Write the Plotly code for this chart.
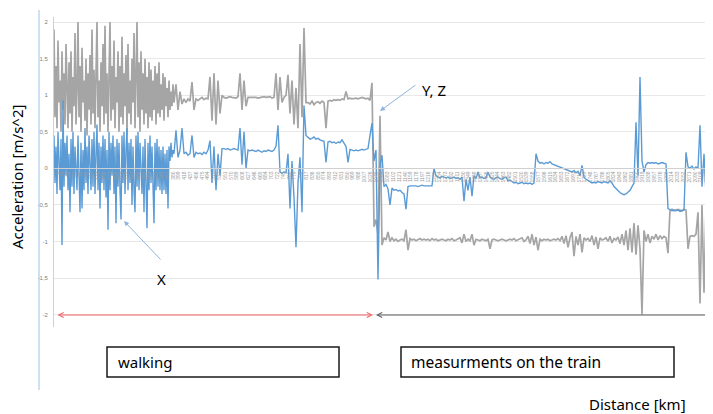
import numpy as np
import plotly.graph_objects as go

# ---------------- data ----------------
# walking part: densely sampled (one sample per unit of the distance axis)
GRAY_WALK = [1.9, 0.7, 1.4, 0.55, 1.75, 0.9, 1.2, 0.5, 1.6, 0.8,
             1.3, 0.6, 1.7, 1.0, 0.55, 1.45, 0.75, 1.6, 0.5, 1.25,
             0.85, 1.85, 0.6, 1.1, 2.0, 0.7, 1.4, 0.5, 1.65, 0.9,
             1.2, 0.65, 1.5, 0.45, 1.3, 0.8, 1.55, 0.6, 1.9, 0.75,
             1.35, 0.55, 1.6, 2.0, 0.7, 1.2, 0.5, 1.45, 0.85, 1.7,
             0.6, 1.95, 0.75, 1.3, 0.5, 1.6, 2.0, 0.65, 1.4, 0.8,
             1.75, 0.55, 1.25, 0.9, 1.6, 0.5, 1.4, 0.7, 1.8, 0.6,
             1.3, 0.85, 1.55, 0.45, 1.7, 0.75, 1.2, 0.6, 1.5, 0.9,
             1.85, 0.55, 1.35, 2.0, 0.7, 1.45, 0.5, 1.6, 0.8, 1.3,
             0.6, 1.5, 0.75, 1.25, 0.55, 1.45, 0.7, 1.35, 0.65, 1.2,
             0.8, 1.4, 0.6, 1.3, 0.75, 1.45, 0.7, 1.15, 0.8, 1.3,
             0.65, 1.25, 0.85, 1.1, 0.7, 1.2, 0.8, 1.05, 0.85, 1.15,
             0.9]
BLUE_WALK = [0.45, -0.2, 0.3, -0.35, 0.5, 0.0, -0.3, 0.4, -1.05, 0.93,
             -0.25, 0.35, -0.1, 0.45, -0.3, 0.2, -0.6, 0.4, -0.25, 0.5,
             -0.35, 0.3, 0.05, -0.3, 0.45, -0.15, -0.6, 0.35, -0.55, 0.25,
             -0.3, 0.55, -0.2, 0.3, -0.35, 0.45, 0.0, -0.3, 0.4, -0.25,
             0.5, -0.35, 0.2, 0.6, -0.3, 0.35, -0.55, 0.3, -0.2, 0.45,
             -0.3, 0.4, -0.4, 0.25, -0.84, 0.5, -0.3, 0.35, -0.1, 0.45,
             -0.35, 0.3, -0.75, 0.4, -0.25, 0.35, -0.3, -0.7, 0.45, -0.2,
             0.5, -0.35, 0.25, 0.55, -0.3, 0.35, -0.2, 0.4, -0.5, 0.3,
             -0.3, -0.6, 0.45, -0.25, 0.5, -0.3, 0.35, 0.0, -0.35, 0.3,
             -0.6, 0.4, -0.25, -0.82, 0.35, -0.3, 0.45, -0.2, 0.3, -0.35,
             -0.75, 0.35, -0.3, 0.4, -0.25, 0.3, -0.3, 0.25, -0.35, 0.3,
             -0.3, 0.2, -0.35, 0.25, -0.55, 0.3, 0.1, 0.35, 0.15, 0.25,
             0.2]

# remaining parts: one sample every two units of the distance axis
GRAY_SLOW = [1.15, 0.8, 1.05, 0.88, 0.95, 0.9, 0.95, 0.92, 1.18, 0.8,
             0.95, 0.93, 0.95, 0.97, 0.94, 0.96, 0.95,
             1.25, 0.65, 1.3, 0.6, 1.2, 0.75, 1.0,
             0.97, 0.96, 0.97, 0.98, 0.97, 0.97, 0.96, 0.98,
             1.3, 0.8, 1.2, 0.85, 0.97,
             0.97, 0.97, 0.98, 0.97, 0.96, 0.97, 0.97, 0.98, 0.97, 0.97, 0.98, 0.96, 0.97,
             1.3, 0.8, 1.25, 0.9, 0.97, 1.0, 1.28, 0.75, 1.2, 0.6, 1.1, 0.55, 1.7, 0.7, 1.92, 0.9]
GRAY_STATION = [0.9, 0.88, 0.92, 0.87, 0.9, 0.91, 0.89, 0.92, 0.9, 0.55,
                0.92, 0.93, 0.92, 0.94, 0.93, 0.94, 0.93, 0.95, 0.94, 1.05,
                0.95, 0.96, 0.95, 0.96, 0.96, 0.95, 0.96, 0.97, 0.96, 0.95,
                0.96, 0.93, 1.17,
                -0.8, -0.7, -0.9, 0.72, -1.05, -0.95]
GRAY_TRAIN = [-0.98, -0.87, -1.0, -0.95, -0.99, -0.97, -1.0, -0.98, -0.97, -0.99,
              -0.84, -1.12, -0.96, -0.98, -0.97, -0.99, -0.98, -0.96, -0.98, -0.97,
              -0.98, -0.97, -0.99, -0.96, -0.98, -0.97, -0.99, -0.98, -0.97, -0.98,
              -0.99, -0.97, -0.98, -0.96, -0.99, -0.98, -0.97, -0.95, -1.02, -0.9,
              -1.0, -0.97, -0.99, -0.9, -1.05, -0.97, -0.98, -0.99, -0.97, -0.98,
              -0.99, -0.97, -1.1, -0.98, -0.97, -0.98, -0.99, -0.98, -0.97, -0.98,
              -0.99, -0.98, -0.97, -0.98, -0.96, -0.99, -0.98, -0.97, -0.95, -1.0,
              -0.98, -0.93, -1.03, -0.9, -1.05, -0.94, -1.12, -0.97, -0.99, -0.97,
              -0.98, -0.97, -0.99, -0.98, -0.97, -0.98, -0.96, -0.99, -0.93, -1.03,
              -0.92, -1.08, -0.95, -0.87, -1.2, -0.93, -1.05, -0.9, -1.15, -0.95,
              -0.98, -0.96, -1.0, -0.92, -1.05, -0.94, -1.1, -0.95, -0.98, -0.97,
              -0.95, -1.0, -0.93, -1.02, -0.96, -0.98, -0.94, -1.03, -0.9, -1.05,
              -0.85, -1.12, -0.82]
GRAY_END = [-1.15, -0.75, -1.18, -0.78, -1.1, -2.0, -0.85, -1.0, -0.9, -1.02,
            -0.93, -0.97, -0.9, -0.98, -0.92, -0.96, -0.93, -0.95, -1.16,
            -0.57, -0.56, -0.58, -0.57, -0.56, -0.57, -0.58, -0.56, -0.57,
            -1.1, -0.93, -0.92, -0.93, -0.9, -0.6, -1.85, -0.5, -1.7, -0.55, -1.9, -0.6, -1.75]

BLUE_SLOW = [0.52, 0.15, 0.25, 0.55, 0.2, 0.22, 0.18, 0.2, 0.45, 0.15,
             0.22, 0.2, 0.21, 0.19, 0.22, 0.2, 0.25,
             0.38, -0.2, 0.3, -0.3, 0.2, -0.1, 0.27,
             0.27, 0.26, 0.27, 0.25, 0.26, 0.27, 0.26, 0.25,
             0.55, 0.05, 0.5, 0.0, 0.25,
             0.24, 0.25, 0.24, 0.23, 0.25, 0.24, 0.22, 0.24, 0.23, 0.25, 0.24, 0.23, 0.25,
             0.3, 0.59, -0.05, -0.07, -0.05, -0.06, 0.2, -0.55, 0.1, -0.4, -1.08, -0.2, 0.15, -0.6, 0.86, 0.45]
BLUE_STATION = [0.42, 0.4, 0.41, 0.43, 0.4, 0.41, 0.39, 0.38, 0.37, 0.08,
                0.36, 0.37, 0.35, 0.36, 0.34, 0.36, 0.35, 0.39, 0.34, 0.3,
                0.08, 0.26, 0.25, 0.24, 0.25, 0.24, 0.25, 0.26, 0.25, 0.26,
                0.27, 0.45, 0.62,
                0.1, 0.25, -1.52, 0.05, 0.18, -0.25]
BLUE_TRAIN = [-0.22, -0.28, -0.5, -0.27, -0.3, -0.29, -0.31, -0.3, -0.33, -0.35,
              -0.56, -0.25, -0.24, -0.24, -0.23, -0.24, -0.25, -0.24, -0.23, -0.24,
              -0.24, -0.25, -0.24, -0.24, 0.0, -0.1, -0.12, -0.13, -0.11, -0.12,
              -0.13, -0.12, -0.14, -0.13, -0.12, -0.14, -0.13, -0.15, -0.12, -0.45,
              -0.15, -0.3, -0.12, -0.38, -0.1, -0.14, -0.05, -0.13, -0.12, -0.14,
              -0.13, -0.05, -0.12, -0.14, -0.15, -0.13, -0.12, -0.14, -0.15, -0.13,
              -0.12, -0.17, -0.16, -0.18, -0.2, -0.19, -0.21, -0.2, -0.19, -0.21,
              -0.2, -0.21, -0.2, -0.22, -0.2, 0.2, 0.1, 0.07, 0.08, 0.06,
              0.08, 0.07, 0.09, 0.06, 0.05, 0.04, 0.03, 0.02, 0.01, 0.0,
              -0.02, -0.03, -0.04, -0.05, -0.03, -0.06, -0.04, -0.1, 0.04, -0.12,
              -0.15, -0.17, -0.18, -0.2, -0.19, -0.2, -0.18, -0.19, -0.2, -0.18,
              -0.19, -0.2, -0.17, -0.2, -0.25, -0.28, -0.3, -0.33, -0.35, -0.36,
              -0.35, -0.33, -0.3]
BLUE_END = [-0.25, -0.2, 0.63, -0.1, 1.25, 0.1, -0.05, 0.05, 0.08, 0.07,
            0.08, 0.07, 0.08, 0.06, 0.07, 0.08, 0.07, 0.06, -0.55,
            -0.57, -0.58, -0.57, -0.58, -0.57, -0.59, -0.58, -0.57, 0.22,
            0.02, 0.0, 0.03, -0.01, 0.02, 0.0, 0.59, -0.25, 0.2, -0.35, 0.1, -0.2, 0.72]

# category (distance) labels along the axis
CATEGORY_LABELS = ("0 19 38 57 76 95 114 133 152 171 190 209 228 247 266 285 304 323 342 361 "
                   "380 399 418 437 456 475 494 513 532 551 570 589 608 627 646 665 684 703 722 741 "
                   "760 779 798 817 836 855 874 893 912 931 950 969 988 1007 1026 1045 1064 1083 1102 1121 "
                   "1140 1159 1178 1197 1216 1235 1254 1273 1292 1311 1330 1349 1368 1387 1406 1425 1444 1463 1482 1501 "
                   "1520 1539 1558 1577 1596 1615 1634 1653 1672 1691 1710 1729 1748 1767 1786 1805 1824 1843 1862 1881 "
                   "1900 1919 1938 1957 1976 1995 2014 2033 2052 2071 2090 2109 2128 2147").split()
Y_TICKS = [-2, -1.5, -1, -0.5, 0, 0.5, 1, 1.5, 2]
Y_TICK_TEXT = ["-2", "-1,5", "-1", "-0,5", "0", "0,5", "1", "1,5", "2"]

# ---------------- build series ----------------
GRAY_REST = GRAY_SLOW + GRAY_STATION + GRAY_TRAIN + GRAY_END
BLUE_REST = BLUE_SLOW + BLUE_STATION + BLUE_TRAIN + BLUE_END


def positions(walk, rest):
    nw = len(walk)
    return np.concatenate([np.arange(nw), nw + 1 + 2 * np.arange(len(rest))])


GRAY_YZ = GRAY_WALK + GRAY_REST
BLUE_X = BLUE_WALK + BLUE_REST
xg = positions(GRAY_WALK, GRAY_REST)
xb = positions(BLUE_WALK, BLUE_REST)

# ---------------- layout geometry (page pixels) ----------------
PAGE_W, PAGE_H = 713, 414
OFF = 8                      # default body margin of the html page
W, H = PAGE_W - OFF, PAGE_H - OFF
PL, PR, PT, PB = 54, 713, 17, 327   # plot area in page pixels
L, T = PL - OFF, PT - OFF
R = PAGE_W - PR
B = PAGE_H - PB
PW, PH = PR - PL, PB - PT


def px2x(p):
    return (p - PL) / PW


def px2y(p):
    return (PB - p) / PH


FONT = "Noto Sans"
BLUE = "#5B9BD5"
GRAY = "#A5A5A5"

fig = go.Figure()
fig.add_trace(go.Scatter(x=xg, y=GRAY_YZ, mode="lines",
                         line=dict(color=GRAY, width=1.7), name="Y, Z", hoverinfo="skip"))
fig.add_trace(go.Scatter(x=xb, y=BLUE_X, mode="lines",
                         line=dict(color=BLUE, width=1.4), name="X", hoverinfo="skip"))

x_max = float(PW)
tickvals = 3 + 5.8 * np.arange(len(CATEGORY_LABELS))
y_lo, y_hi = -2.17, 2.07
zero_pos = (0 - y_lo) / (y_hi - y_lo)

fig.update_layout(
    width=W, height=H, margin=dict(l=L, r=R, t=T, b=B, autoexpand=False),
    paper_bgcolor="white", plot_bgcolor="white", showlegend=False,
    font=dict(family=FONT, color="#000000"),
    xaxis=dict(range=[0, x_max], anchor="free", position=zero_pos, automargin=False,
               showgrid=False, zeroline=False, showline=True, linecolor="#D0D0D0", linewidth=1,
               tickmode="array", tickvals=tickvals, ticktext=CATEGORY_LABELS,
               tickangle=-90, tickfont=dict(size=5, color="#9A9A9A", family="Liberation Sans"),
               ticks=""),
    yaxis=dict(range=[y_lo, y_hi], tickmode="array", tickvals=Y_TICKS, ticktext=Y_TICK_TEXT,
               automargin=False,
               tickfont=dict(size=6, color="#808080", family="Liberation Sans"),
               showgrid=True, gridcolor="#E8E8E8", gridwidth=1, zeroline=False,
               showline=True, linecolor="#D0D0D0", linewidth=1, ticks="", ticklabelstandoff=4),
)

# outer light blue vertical line
fig.add_shape(type="line", xref="paper", yref="paper", x0=px2x(39), x1=px2x(39),
              y0=px2y(10), y1=px2y(390), line=dict(color="#9DC3E6", width=1))

# text boxes
fig.add_shape(type="rect", xref="paper", yref="paper", x0=px2x(107), x1=px2x(339),
              y0=px2y(377), y1=px2y(347), line=dict(color="#1A1A1A", width=1.5))
fig.add_shape(type="rect", xref="paper", yref="paper", x0=px2x(401), x1=px2x(674),
              y0=px2y(377), y1=px2y(347), line=dict(color="#1A1A1A", width=1.5))

ann = []
ann.append(dict(xref="paper", yref="paper", x=px2x(116), y=px2y(362), xanchor="left", yanchor="middle",
                text="walking", showarrow=False, font=dict(size=15, family=FONT)))
ann.append(dict(xref="paper", yref="paper", x=px2x(409), y=px2y(362), xanchor="left", yanchor="middle",
                text="measurments on the train", showarrow=False, font=dict(size=15.5, family=FONT)))
ann.append(dict(xref="paper", yref="paper", x=px2x(637), y=px2y(404), xanchor="center", yanchor="middle",
                text="Distance [km]", showarrow=False, font=dict(size=15, family=FONT)))
ann.append(dict(xref="paper", yref="paper", x=px2x(17), y=px2y(177), xanchor="center", yanchor="middle",
                text="Acceleration [m/s^2]", textangle=-90, showarrow=False, font=dict(size=15, family=FONT)))
ann.append(dict(xref="paper", yref="paper", x=px2x(434), y=px2y(90), xanchor="center", yanchor="middle",
                text="Y, Z", showarrow=False, font=dict(size=15, family=FONT)))
ann.append(dict(xref="paper", yref="paper", x=px2x(161), y=px2y(279), xanchor="center", yanchor="middle",
                text="X", showarrow=False, font=dict(size=15, family=FONT)))
# pointer arrows
ann.append(dict(xref="paper", yref="paper", x=px2x(380), y=px2y(111), ax=37, ay=-27, text="",
                showarrow=True, arrowhead=2, arrowsize=1, arrowwidth=1, arrowcolor="#8FB4DE"))
ann.append(dict(xref="paper", yref="paper", x=px2x(124), y=px2y(221), ax=38, ay=40, text="",
                showarrow=True, arrowhead=2, arrowsize=1, arrowwidth=1, arrowcolor="#8FB4DE"))
# range arrows along the bottom
ann.append(dict(xref="paper", yref="paper", x=px2x(373), y=px2y(315), ax=-317, ay=0, text="",
                showarrow=True, arrowhead=5, arrowside="end+start", arrowsize=1, arrowwidth=1,
                arrowcolor="#F06060", standoff=0, startstandoff=0))
ann.append(dict(xref="paper", yref="paper", x=px2x(376), y=px2y(315), ax=337, ay=0, text="",
                showarrow=True, arrowhead=5, arrowside="end", arrowsize=1, arrowwidth=1,
                arrowcolor="#5A5A5A", standoff=0))
fig.update_layout(annotations=ann)

fig.write_html("out.html")
